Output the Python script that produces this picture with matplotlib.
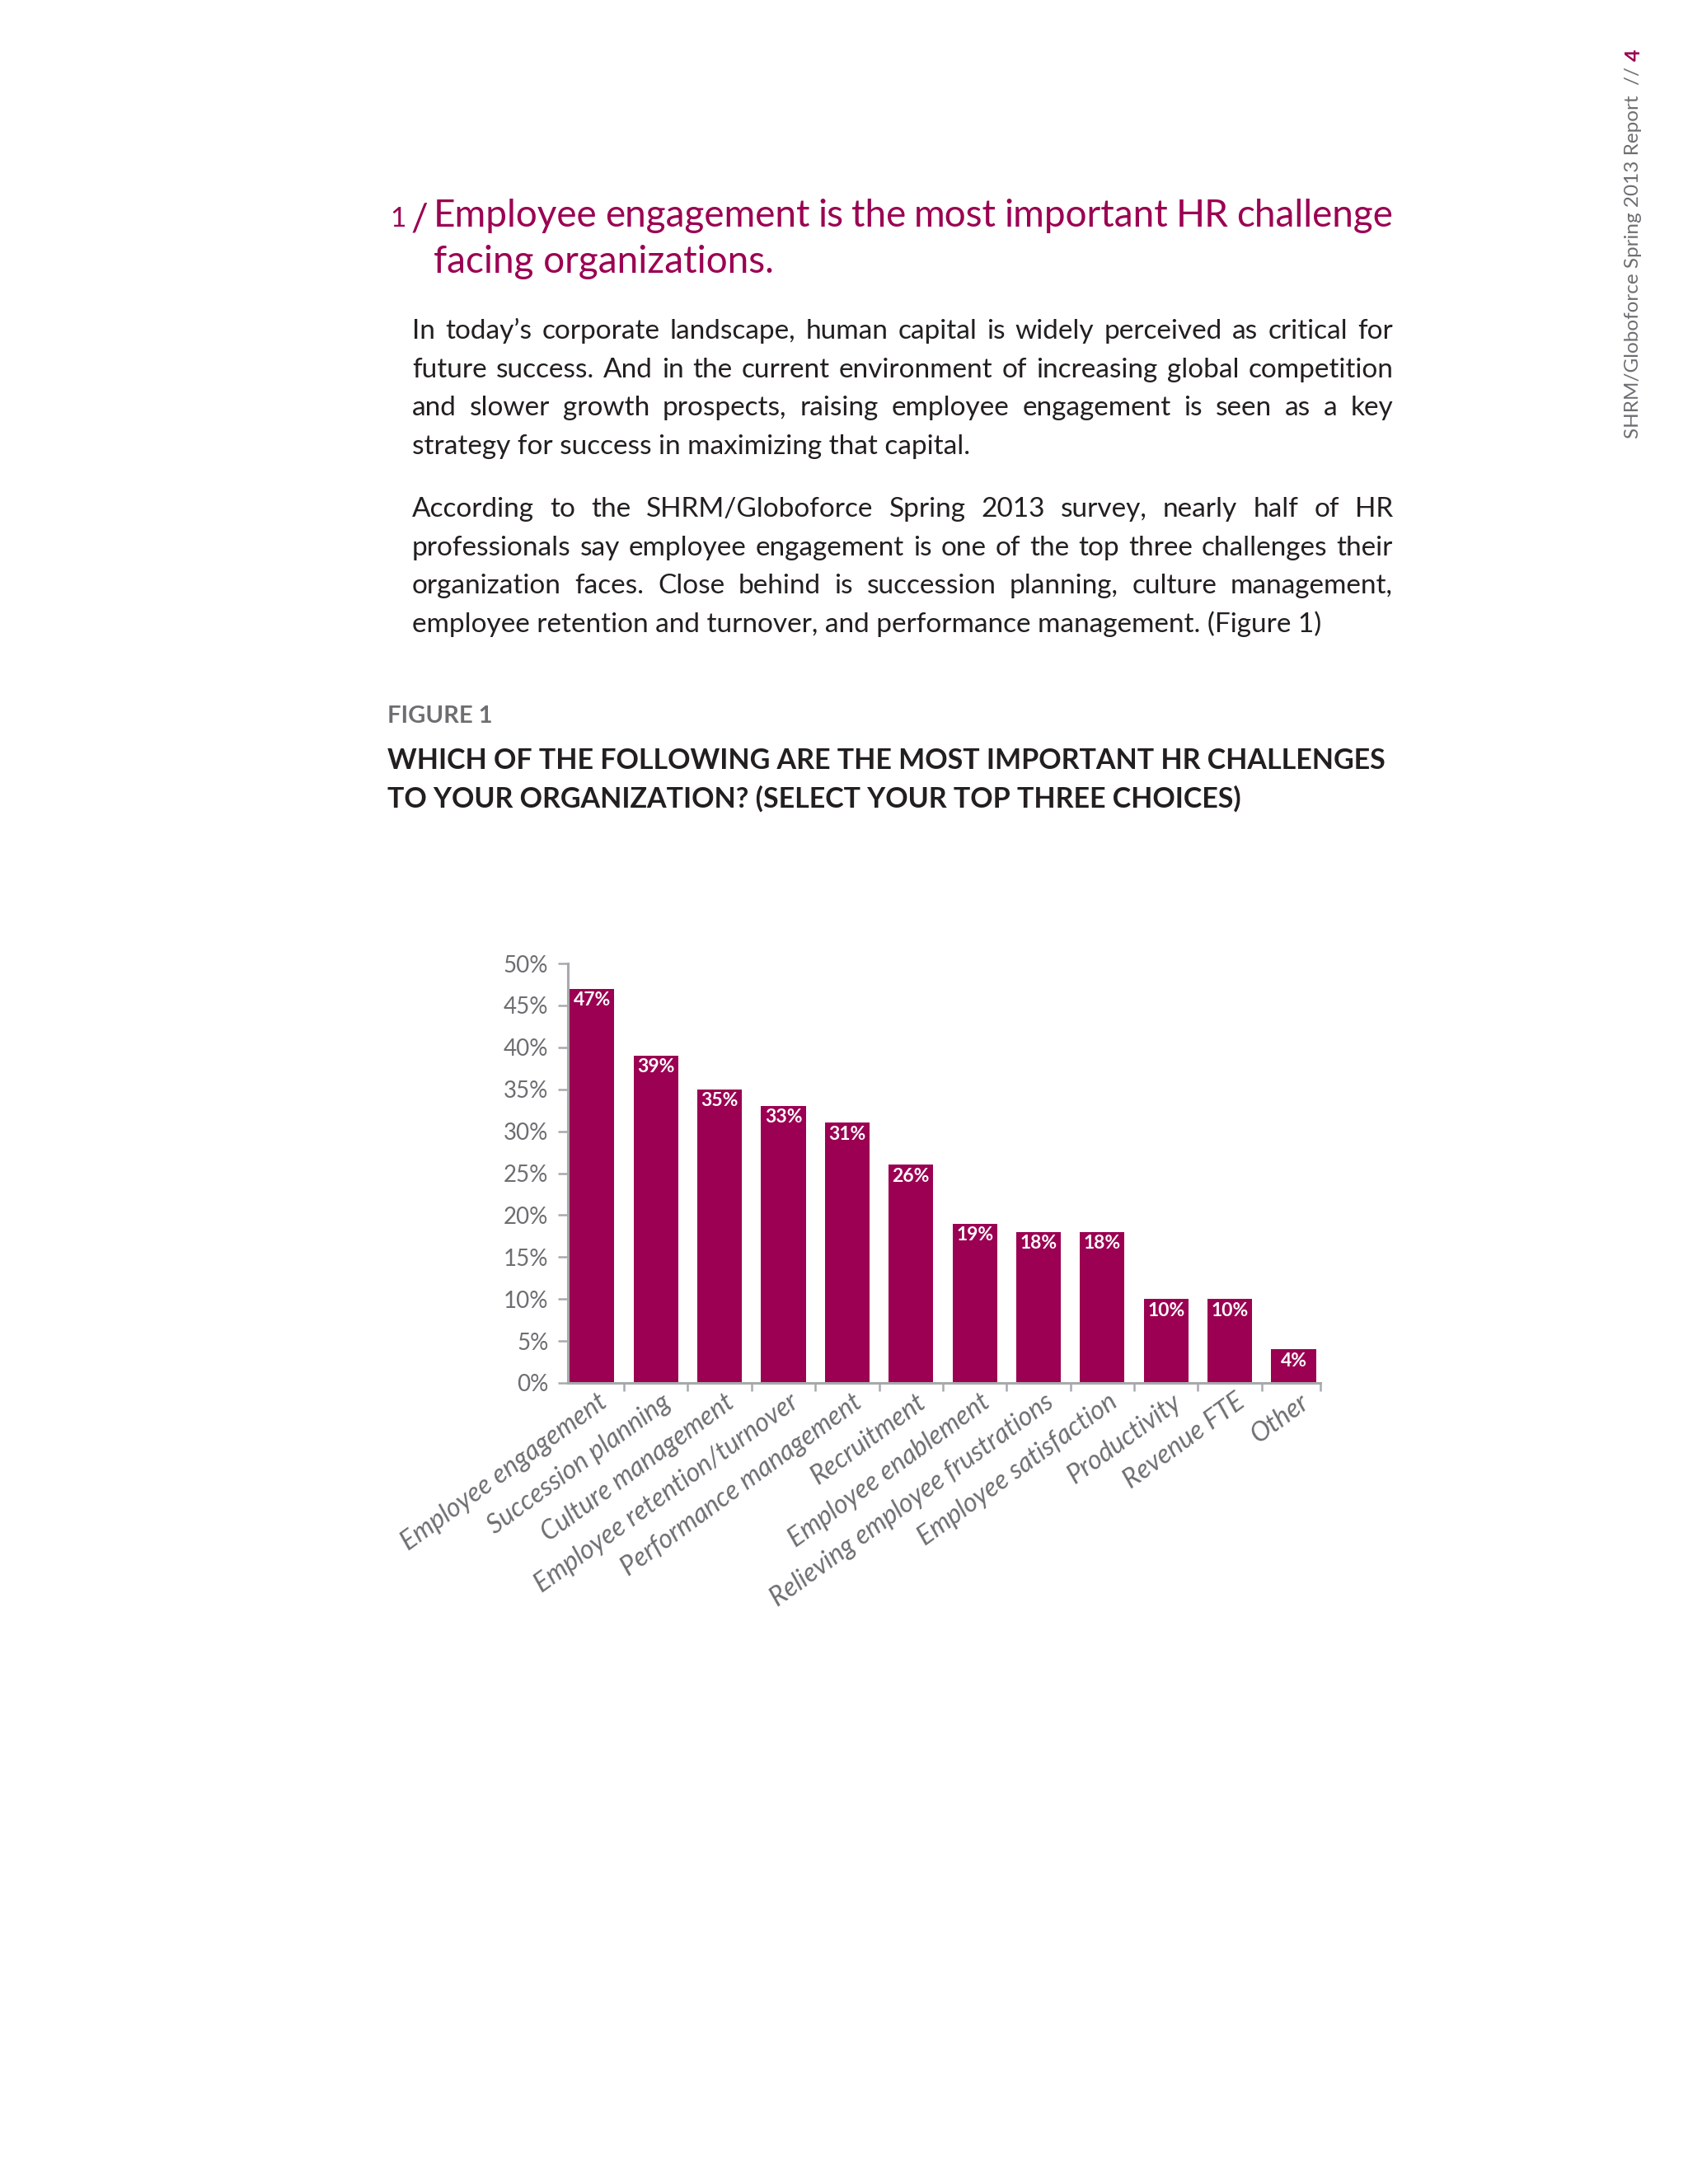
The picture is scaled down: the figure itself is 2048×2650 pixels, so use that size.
import matplotlib
matplotlib.use("Agg")
import matplotlib.pyplot as plt
import numpy as np
from matplotlib.transforms import offset_copy

W, H = 2048, 2650
DPI = 100

# chart data
categories = ["Employee engagement", "Succession planning", "Culture management",
              "Employee retention/turnover", "Performance management", "Recruitment",
              "Employee enablement", "Relieving employee frustrations",
              "Employee satisfaction", "Productivity", "Revenue FTE", "Other"]
values = [47, 39, 35, 33, 31, 26, 19, 18, 18, 10, 10, 4]
yticks = [0, 5, 10, 15, 20, 25, 30, 35, 40, 45, 50]
ytick_labels = [f"{t}%" for t in yticks]

# page text
title_num = "1"
title_lines = ["Employee engagement is the most important HR challenge",
               "facing organizations."]
para1 = ["In today\u2019s corporate landscape, human capital is widely perceived as critical for",
         "future success. And in the current environment of increasing global competition",
         "and slower growth prospects, raising employee engagement is seen as a key",
         "strategy for success in maximizing that capital."]
para2 = ["According to the SHRM/Globoforce Spring 2013 survey, nearly half of HR",
         "professionals say employee engagement is one of the top three challenges their",
         "organization faces. Close behind is succession planning, culture management,",
         "employee retention and turnover, and performance management. (Figure 1)"]
fig_label = "FIGURE 1"
question = ["WHICH OF THE FOLLOWING ARE THE MOST IMPORTANT HR CHALLENGES",
            "TO YOUR ORGANIZATION? (SELECT YOUR TOP THREE CHOICES)"]
side_text = "SHRM/Globoforce Spring 2013 Report  //"
page_no = "4"

MAGENTA = "#9b0052"
TEXT_C = "#231f20"
GRAY = "#6d6e71"
AXIS_C = "#a7a9ac"

plt.rcParams['font.family'] = ['Lato', 'DejaVu Sans']

fig = plt.figure(figsize=(W / DPI, H / DPI), dpi=DPI)
fig.patch.set_facecolor("white")
renderer = fig.canvas.get_renderer()


def px(x, y):
    return x / W, 1 - y / H


def justify(line, x0, x1, y, **kw):
    words = line.split()
    texts = [fig.text(*px(x0, y), w, va='baseline', ha='left', **kw) for w in words]
    widths = [t.get_window_extent(renderer).width for t in texts]
    gap = (x1 - x0 - sum(widths)) / (len(words) - 1)
    x = x0
    for t, w in zip(texts, widths):
        t.set_x(x / W)
        x += w + gap


def paragraph(lines, x0, x1, ys, **kw):
    for line, y in zip(lines[:-1], ys[:-1]):
        justify(line, x0, x1, y, **kw)
    fig.text(*px(x0, ys[-1]), lines[-1], va='baseline', ha='left', **kw)


# title
fig.text(*px(473, 275), title_num, va='baseline', ha='left', fontsize=24, color=MAGENTA)
fig.text(*px(498, 280), "/", va='baseline', ha='left', fontsize=33, color=MAGENTA)
justify(title_lines[0], 526, 1690, 275, fontsize=33, color=MAGENTA)
fig.text(*px(526, 331), title_lines[1], va='baseline', ha='left', fontsize=33, color=MAGENTA)

# body
paragraph(para1, 500, 1690, [411, 458, 504, 551], fontsize=24, color=TEXT_C)
paragraph(para2, 500, 1690, [627, 674, 720, 767], fontsize=24, color=TEXT_C)

# figure heading
fig.text(*px(470, 877), fig_label, va='baseline', ha='left', fontsize=21,
         fontweight='bold', color=GRAY)
fig.text(*px(470, 933), question[0], va='baseline', ha='left', fontsize=24.5,
         fontweight='bold', color=TEXT_C)
fig.text(*px(470, 980), question[1], va='baseline', ha='left', fontsize=24.5,
         fontweight='bold', color=TEXT_C)

# side running head
fig.text(*px(1982, 60), page_no, rotation=90, ha='center', va='top', fontsize=18,
         fontweight='bold', color=MAGENTA)
fig.text(*px(1982, 532), side_text, rotation=90, ha='center', va='bottom', fontsize=17.5,
         color=GRAY)

# chart
left, right, top, bottom = 689, 1602, 1169, 1678
ax = fig.add_axes([left / W, 1 - bottom / H, (right - left) / W, (bottom - top) / H])
x = np.arange(len(categories))
ax.bar(x, values, width=0.7, color=MAGENTA, zorder=2)
for i, v in zip(x, values):
    ax.annotate(f"{v}%", (i, v), xytext=(0, -10), textcoords='offset points',
                ha='center', va='center', color='white', fontweight='bold', fontsize=16.5)

ax.set_xlim(-0.38, 11.42)
ax.set_ylim(0, 50)
ax.set_yticks(yticks, ytick_labels)
ax.set_xticks(list(np.arange(0.5, 11, 1)) + [11.42], [])
ax.tick_params(axis='y', length=9, width=1.8, color=AXIS_C, labelcolor=GRAY,
               labelsize=20, pad=8)
ax.tick_params(axis='x', length=7, width=1.8, color=AXIS_C)
for s in ['top', 'right']:
    ax.spines[s].set_visible(False)
for s in ['left', 'bottom']:
    ax.spines[s].set_color(AXIS_C)
    ax.spines[s].set_linewidth(2.2)
ax.set_facecolor('none')

trans = offset_copy(ax.get_xaxis_transform(), fig=fig, x=6, y=-8, units='dots')
for i, c in zip(x, categories):
    ax.text(i, 0, c, transform=trans, rotation=36, rotation_mode='anchor',
            ha='right', va='top', fontsize=23, style='italic', color=GRAY)

fig.savefig("out.png", dpi=DPI, facecolor="white")
